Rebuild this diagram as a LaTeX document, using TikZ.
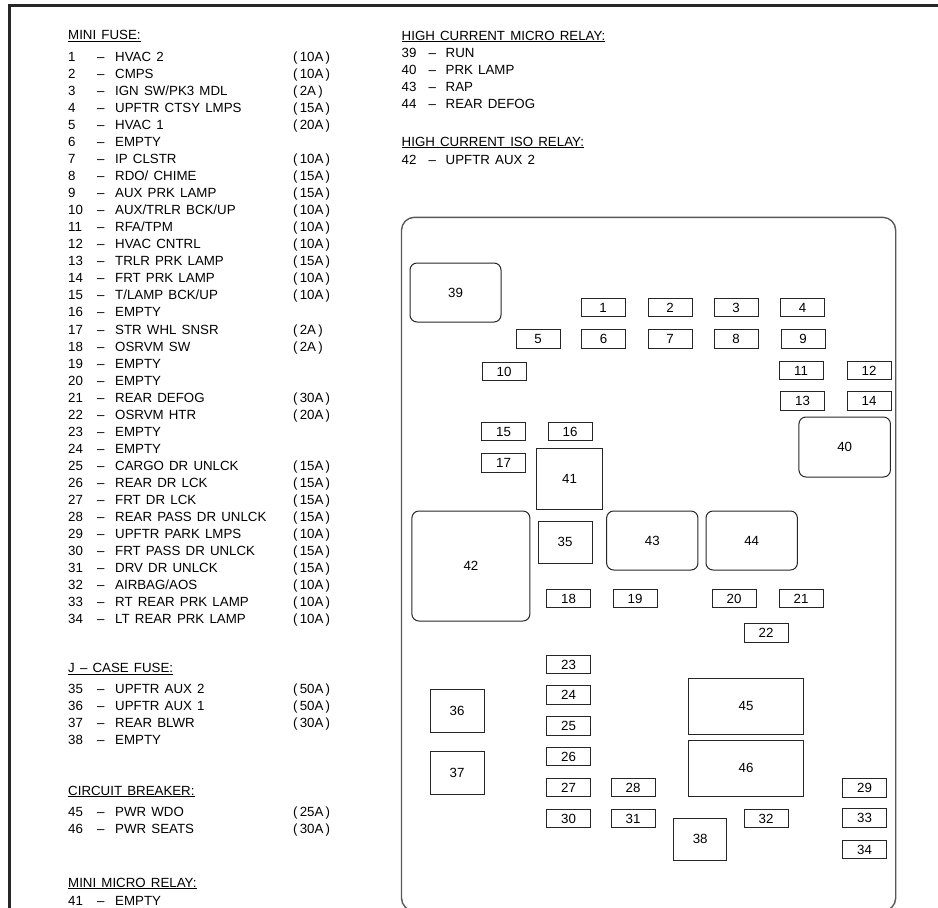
\documentclass[tikz,border=0pt]{standalone}
\usepackage{fontspec}
\setmainfont{Liberation Sans}[WordSpace=1.4]
\usepackage{tikz}
\usetikzlibrary{positioning}

\newcommand{\diagfont}{\fontsize{13.3}{15}\selectfont}

\tikzset{
  listtext/.style={anchor=base west, inner sep=0pt, font=\diagfont},
  fuse/.style={draw=black!85, line width=1pt, minimum width=44pt,
    minimum height=18.5pt, inner sep=0pt, font=\diagfont},
  relay/.style={draw=black!85, line width=1pt, rounded corners=7pt,
    inner sep=0pt, font=\diagfont},
  jcase/.style={draw=black!85, line width=1pt, inner sep=0pt, font=\diagfont},
}

\begin{document}
\begin{tikzpicture}[x=1pt, y=-1pt]
    \useasboundingbox (0,0) rectangle (938,908);

    % Page frame
    \draw[black!85, line width=3pt] (9,910) -- (9,5.3) -- (940,5.3);

    % Mini fuse list
    \node[listtext] (hmini) at (68,39.5) {\underline{MINI FUSE:}};
    \foreach \fno/\fdesc/\frate [count=\i from 0] in {
        1/HVAC 2/(\,10A\,), 2/CMPS/(\,10A\,), 3/{IGN SW/PK3 MDL}/(\,2A\,),
        4/UPFTR CTSY LMPS/(\,15A\,), 5/HVAC 1/(\,20A\,), 6/EMPTY/{},
        7/IP CLSTR/(\,10A\,), 8/{RDO/ CHIME}/(\,15A\,), 9/AUX PRK LAMP/(\,15A\,),
        10/{AUX/TRLR BCK/UP}/(\,10A\,), 11/{RFA/TPM}/(\,10A\,),
        12/HVAC CNTRL/(\,10A\,), 13/TRLR PRK LAMP/(\,15A\,),
        14/FRT PRK LAMP/(\,10A\,), 15/{T/LAMP BCK/UP}/(\,10A\,), 16/EMPTY/{},
        17/STR WHL SNSR/(\,2A\,), 18/OSRVM SW/(\,2A\,), 19/EMPTY/{}, 20/EMPTY/{},
        21/REAR DEFOG/(\,30A\,), 22/OSRVM HTR/(\,20A\,), 23/EMPTY/{}, 24/EMPTY/{},
        25/CARGO DR UNLCK/(\,15A\,), 26/REAR DR LCK/(\,15A\,),
        27/FRT DR LCK/(\,15A\,), 28/REAR PASS DR UNLCK/(\,15A\,),
        29/UPFTR PARK LMPS/(\,10A\,), 30/FRT PASS DR UNLCK/(\,15A\,),
        31/DRV DR UNLCK/(\,15A\,), 32/{AIRBAG/AOS}/(\,10A\,),
        33/RT REAR PRK LAMP/(\,10A\,), 34/LT REAR PRK LAMP/(\,10A\,)} {
        \node[listtext] (mf\fno) at (68,{61.2+17.05*\i})
            {\makebox[29pt][l]{\fno}\makebox[18pt][l]{--}\makebox[178pt][l]{\fdesc}\frate};
    }

    % J-case fuse list
    \node[listtext] (hjcase) at (68,672.6) {\underline{J -- CASE FUSE:}};
    \foreach \fno/\fdesc/\frate [count=\i from 0] in {
        35/UPFTR AUX 2/(\,50A\,), 36/UPFTR AUX 1/(\,50A\,),
        37/REAR BLWR/(\,30A\,), 38/EMPTY/{}} {
        \node[listtext] (jc\fno) at (68,{693+17.3*\i})
            {\makebox[29pt][l]{\fno}\makebox[18pt][l]{--}\makebox[178pt][l]{\fdesc}\frate};
    }

    % Circuit breaker list
    \node[listtext] (hbreaker) at (68,795) {\underline{CIRCUIT BREAKER:}};
    \node[listtext] (cbl45) at (68,816.6)
        {\makebox[29pt][l]{45}\makebox[18pt][l]{--}\makebox[178pt][l]{PWR WDO}(\,25A\,)};
    \node[listtext] (cbl46) at (68,833.6)
        {\makebox[29pt][l]{46}\makebox[18pt][l]{--}\makebox[178pt][l]{PWR SEATS}(\,30A\,)};

    % Mini micro relay list
    \node[listtext] (hmicro) at (68,887) {\underline{MINI MICRO RELAY:}};
    \node[listtext] (mm41) at (68,905.5)
        {\makebox[29pt][l]{41}\makebox[18pt][l]{--}EMPTY};

    % High current relays
    \node[listtext] (hhigh) at (401.5,40) {\underline{HIGH CURRENT MICRO RELAY:}};
    \foreach \fno/\fdesc [count=\i from 0] in {39/RUN, 40/PRK LAMP, 43/RAP, 44/REAR DEFOG} {
        \node[listtext] (hc\fno) at (401.5,{57.5+17*\i})
            {\makebox[27pt][l]{\fno}\makebox[17pt][l]{--}\fdesc};
    }
    \node[listtext] (hiso) at (401.5,146) {\underline{HIGH CURRENT ISO RELAY:}};
    \node[listtext] (iso42) at (401.5,164)
        {\makebox[27pt][l]{42}\makebox[17pt][l]{--}UPFTR AUX 2};

    % Fuse block outline
    \begin{scope}
        \clip (0,0) rectangle (938,908);
        \draw[black!65, line width=1.4pt, rounded corners=13pt]
            (401.5,217.3) rectangle (895.7,911);
    \end{scope}

    % Mini fuses
    \foreach \fno/\cx/\cy in {
        1/603/307.5, 2/670/307.5, 3/736/307.5, 4/802.5/307.5,
        5/538/339, 6/603.5/339, 7/670/339, 8/736/339, 9/803/339,
        10/504/371.5, 11/801/370.5, 12/869/370.5,
        13/802.5/401, 14/869/401,
        15/503.6/431.5, 16/570/431.5, 17/503.6/463,
        18/568.5/598.5, 19/635/598.5, 20/734/598.5, 21/801/598.5,
        22/766/633,
        23/568.5/664.5, 24/568.5/695, 25/568.5/726, 26/568.5/756.5,
        27/568.5/787.5, 28/633/787.5, 29/864.5/788,
        30/568.5/818.5, 31/633/818.5, 32/766/818.5, 33/864.5/818,
        34/864.5/849.5} {
        \node[fuse] (f\fno) at (\cx,\cy) {\fno};
    }

    % Relays
    \node[relay, minimum width=91pt, minimum height=59pt] (r39) at (455.5,292.5) {39};
    \node[relay, minimum width=91.5pt, minimum height=60pt] (r40) at (844.7,447) {40};
    \node[relay, minimum width=118pt, minimum height=110pt] (r42) at (470.9,566) {42};
    \node[relay, minimum width=91.3pt, minimum height=59pt] (r43) at (652.3,540.5) {43};
    \node[relay, minimum width=91.4pt, minimum height=59pt] (r44) at (751.7,540.5) {44};

    % J-case fuses and micro relay
    \node[jcase, minimum width=65.8pt, minimum height=61pt] (j41) at (569.6,478.5) {41};
    \node[jcase, minimum width=54pt, minimum height=42pt] (j35) at (565,542) {35};
    \node[jcase, minimum width=54pt, minimum height=43pt] (j36) at (457,710.5) {36};
    \node[jcase, minimum width=54pt, minimum height=43pt] (j37) at (457,772.5) {37};
    \node[jcase, minimum width=53.5pt, minimum height=42pt] (j38) at (700.2,839) {38};

    % Circuit breakers
    \node[jcase, minimum width=115pt, minimum height=56pt] (cb45) at (746.1,706) {45};
    \node[jcase, minimum width=115pt, minimum height=56pt] (cb46) at (746.1,768) {46};
\end{tikzpicture}
\end{document}
